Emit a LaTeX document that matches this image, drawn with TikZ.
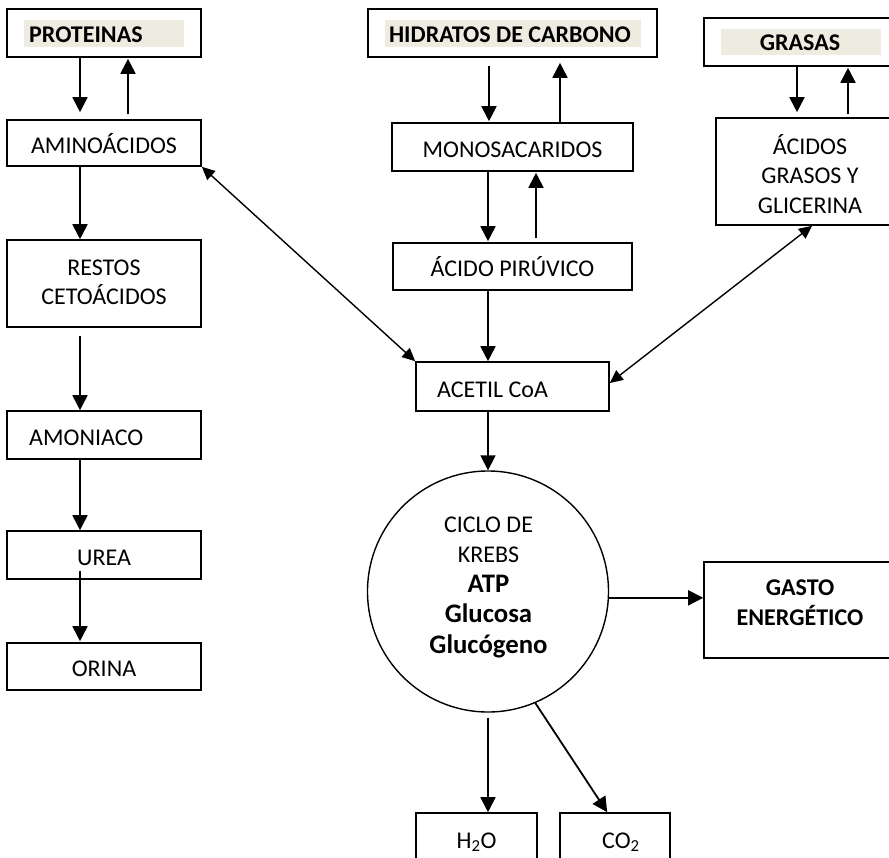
\documentclass[tikz,border=0pt]{standalone}
\usepackage{fontspec}
\setmainfont{Carlito}
\usetikzlibrary{arrows.meta,calc}
\definecolor{hlcol}{HTML}{EEECE1}
\tikzset{
  box/.style={draw, line width=1.6pt, inner sep=0pt},
  txt/.style={inner sep=0pt, font=\fontsize{24}{29.5}\selectfont, align=center},
  btxt/.style={inner sep=0pt, font=\bfseries\fontsize{24}{29.5}\selectfont, align=center},
  bigb/.style={inner sep=0pt, font=\bfseries\fontsize{26.75}{31}\selectfont},
  onel/.style={text height=20.2pt, text depth=0pt},
  captxt/.style={text height=15.2pt, text depth=0pt},
  arr/.style={line width=1.8pt, -{Triangle[length=15pt,width=15pt]}},
  darr/.style={line width=1.4pt, {Triangle[length=13pt,width=12pt]}-{Triangle[length=13pt,width=12pt]}},
  hl/.style={fill=hlcol, draw=none, inner sep=0pt},
}
\begin{document}
\begin{tikzpicture}[x=1pt,y=-1pt]
\useasboundingbox (0,0) rectangle (889,857);
\clip (0,0) rectangle (889,857);
\fill[white] (0,0) rectangle (889,857);

% left column
\node[box, minimum width=194pt, minimum height=48pt] (prot) at (104,33) {};
\node[hl, minimum width=160pt, minimum height=27pt] (protHL) at (104,33.5) {};
\node[btxt, captxt, anchor=west] (protT) at (29,35) {PROTEINAS};
\node[box, txt, onel, minimum width=194pt, minimum height=46pt] (amino) at (104,143) {AMINOÁCIDOS};
\node[box, minimum width=194pt, minimum height=87pt] (restos) at (104,283.5) {};
\node[txt] (restosT) at (104,282.5) {RESTOS\\CETOÁCIDOS};
\node[box, minimum width=194pt, minimum height=48pt] (amon) at (104,435) {};
\node[txt, captxt, anchor=west] (amonT) at (29,438) {AMONIACO};
\node[box, txt, onel, minimum width=194pt, minimum height=48pt] (urea) at (104,555) {UREA};
\node[box, txt, onel, minimum width=194pt, minimum height=47pt] (orina) at (104,666.5) {ORINA};

% middle column
\node[box, minimum width=289pt, minimum height=48pt] (hidr) at (512.5,33) {};
\node[hl, minimum width=256pt, minimum height=27pt] (hidrHL) at (513,33.5) {};
\node[btxt, captxt] (hidrT) at (510,35) {HIDRATOS DE CARBONO};
\node[box, txt, onel, minimum width=241pt, minimum height=48pt] (mono) at (512.5,147) {MONOSACARIDOS};
\node[box, txt, onel, minimum width=239pt, minimum height=47pt] (piru) at (512.5,266.5) {ÁCIDO PIRÚVICO};
\node[box, minimum width=193pt, minimum height=49pt] (acetil) at (512.5,386.5) {};
\node[txt, captxt, anchor=west] (acetilT) at (437,390) {ACETIL CoA};

\node[draw, circle, line width=1.4pt, minimum size=241pt, inner sep=0pt] (krebs) at (488,591.5) {};
\node[txt, anchor=base] (k1) at (488.5,532) {CICLO DE};
\node[txt, anchor=base] (k2) at (488.5,562) {KREBS};
\node[bigb, anchor=base] (k3) at (488.5,592) {ATP};
\node[bigb, anchor=base] (k4) at (488.5,622) {Glucosa};
\node[bigb, anchor=base] (k5) at (488.5,653) {Glucógeno};

\node[box, txt, onel, minimum width=121pt, minimum height=50pt] (h2o) at (476.5,838) {H\textsubscript{2}O};
\node[box, minimum width=110pt, minimum height=50pt] (co2) at (615,838) {};
\node[txt, onel, anchor=west] (co2T) at (602,838) {CO\textsubscript{2}};

% right column
\node[box, minimum width=192pt, minimum height=48pt] (grasas) at (800,42) {};
\node[hl, minimum width=160pt, minimum height=26pt] (grasasHL) at (801,42) {};
\node[btxt, captxt] (grasasT) at (800,43) {GRASAS};
\node[box, minimum width=188pt, minimum height=107pt] (acgr) at (810,171.5) {};
\node[txt] (acgrT) at (810,174) {ÁCIDOS\\GRASOS Y\\GLICERINA};
\node[box, minimum width=192pt, minimum height=96pt] (gasto) at (800,610) {};
\node[btxt] (gastoT) at (800,602.5) {GASTO\\ENERGÉTICO};

% arrows left
\draw[arr] ([xshift=-24pt]prot.south) -- ([xshift=-24pt,yshift=7pt]amino.north);
\draw[arr] ([xshift=24pt,yshift=5pt]amino.north) -- ([xshift=24pt,yshift=-1pt]prot.south);
\draw[arr] ([xshift=-24pt]amino.south) -- ([xshift=-24pt]restos.north);
\draw[arr] ([xshift=-24pt,yshift=-8pt]restos.south) -- ([xshift=-24pt]amon.north);
\draw[arr] ([xshift=-24pt]amon.south) -- ([xshift=-24pt]urea.north);
\draw[arr] ([xshift=-24pt,yshift=9pt]urea.south) -- ([xshift=-24pt,yshift=1pt]orina.north);

% arrows middle
\draw[arr] ([xshift=-23.5pt,yshift=-8pt]hidr.south) -- ([xshift=-23.5pt,yshift=1pt]mono.north);
\draw[arr] ([xshift=47.5pt]mono.north) -- ([xshift=47.5pt,yshift=-5pt]hidr.south);
\draw[arr] ([xshift=-24.5pt]mono.south) -- ([xshift=-24.5pt,yshift=1pt]piru.north);
\draw[arr] ([xshift=23.5pt,yshift=4pt]piru.north) -- ([xshift=23.5pt,yshift=-1pt]mono.south);
\draw[arr] ([xshift=-24.5pt]piru.south) -- ([xshift=-24.5pt]acetil.north);
\draw[arr] ([xshift=-24.5pt]acetil.south) -- (krebs.north);

% arrows right
\draw[arr] ([xshift=-3pt]grasas.south) -- ([xshift=-13pt,yshift=5pt]acgr.north);
\draw[arr] ([xshift=38pt,yshift=3pt]acgr.north) -- ([xshift=48pt,yshift=-1pt]grasas.south);

% krebs outputs
\draw[arr] ([yshift=-5pt]krebs.south) -- (h2o.north -| krebs.south);
\draw[arr] (krebs.-67) -- ([xshift=48pt]co2.north west);
\draw[arr] (krebs.-3) -- (gasto.west |- krebs.-3);

% diagonal double arrows
\draw[darr] (amino.south east) -- (acetil.north west);
\draw[darr] ([xshift=2pt]acgr.south) -- ([yshift=3.5pt]acetil.east);
\end{tikzpicture}
\end{document}
